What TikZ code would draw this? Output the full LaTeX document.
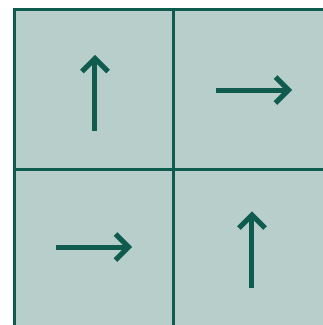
\documentclass[tikz,border=0pt]{standalone}
\begin{document}
\begin{tikzpicture}[x=1pt,y=-1pt,
  cell/.style={draw=teal1,fill=bg1,line width=3pt,minimum size=160pt,inner sep=0pt,outer sep=0pt},
  arr/.style={draw=teal1,line width=5pt,line cap=butt,line join=miter}]
\definecolor{teal1}{HTML}{0F5C4F}
\definecolor{bg1}{HTML}{B7CECA}
\useasboundingbox (0,0) rectangle (323,325);
\clip (0,0) rectangle (323,325);
\fill[white] (0,0) rectangle (323,325);
\node[cell] (c11) at (94,89) {};
\node[cell] (c12) at (254,89) {};
\node[cell] (c21) at (94,249) {};
\node[cell] (c22) at (254,249) {};
% top-left: up arrow
\coordinate (a1s) at (95,131);
\coordinate (a1t) at (95,58.5);
\draw[arr] (a1s) -- ([yshift=-1pt]a1t);
\draw[arr] (a1t) ++(-13,13) -- (a1t) -- ++(13,13);
% top-right: right arrow
\coordinate (a2s) at (216,90);
\coordinate (a2t) at (288.5,90);
\draw[arr] (a2s) -- ([xshift=-1pt]a2t);
\draw[arr] (a2t) ++(-13,-13) -- (a2t) -- ++(-13,13);
% bottom-left: right arrow
\coordinate (a3s) at (56,247);
\coordinate (a3t) at (128.5,247);
\draw[arr] (a3s) -- ([xshift=-1pt]a3t);
\draw[arr] (a3t) ++(-13,-13) -- (a3t) -- ++(-13,13);
% bottom-right: up arrow
\coordinate (a4s) at (252,288);
\coordinate (a4t) at (252,215);
\draw[arr] (a4s) -- ([yshift=-1pt]a4t);
\draw[arr] (a4t) ++(-13,13) -- (a4t) -- ++(13,13);
\end{tikzpicture}
\end{document}
